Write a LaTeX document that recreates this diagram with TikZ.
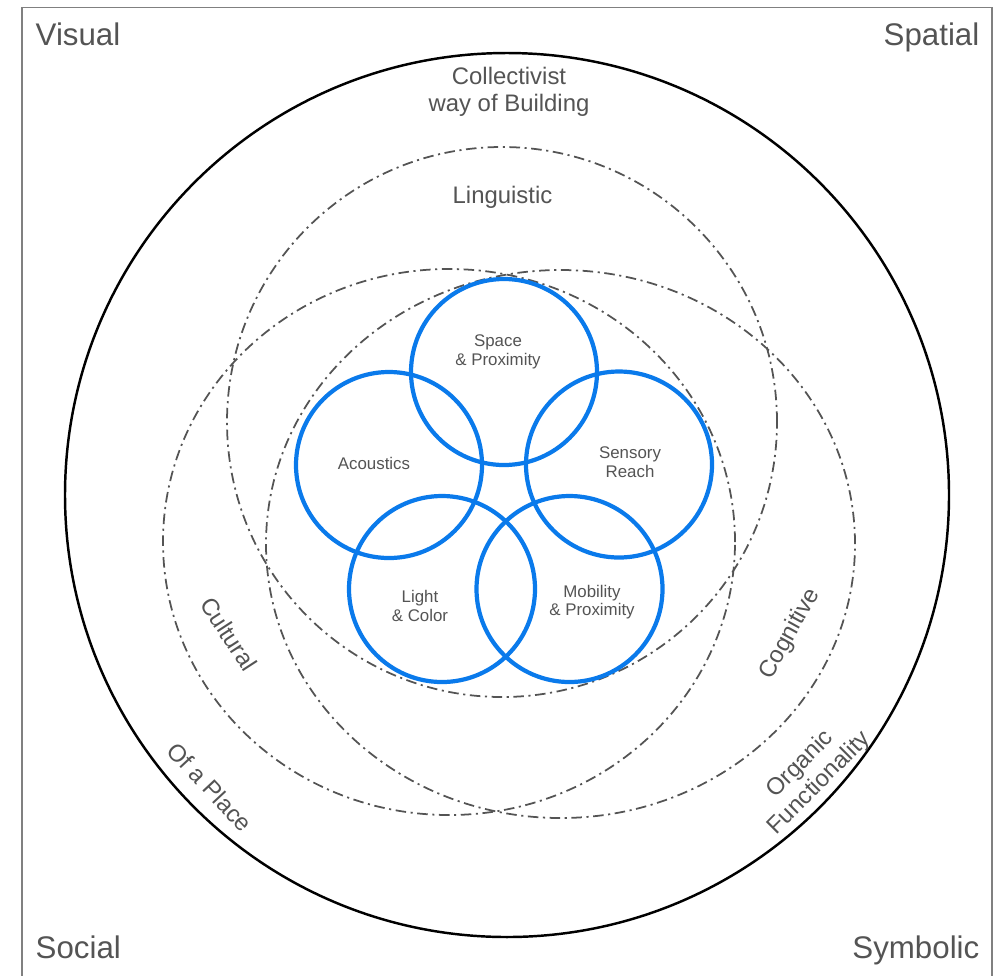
\documentclass[tikz,border=0pt]{standalone}
\usepackage{fontspec}
\setmainfont{Liberation Sans}
\usetikzlibrary{positioning}
\definecolor{mblue}{rgb}{0.04, 0.48, 0.92}
\definecolor{mgray}{rgb}{0.33, 0.33, 0.33}
\definecolor{lgray}{rgb}{0.5, 0.5, 0.5}
\tikzset{dashdot/.style = {mgray, line width=0.5pt,
                           dash pattern=on 3pt off 1.3pt on 0.6pt off 1.3pt},
         ring/.style = {mblue, line width=1.2pt},
         corner/.style = {mgray, inner sep=0pt, font=\fontsize{8.9}{10}\selectfont},
         field/.style = {mgray, inner sep=0pt, align=center, font=\fontsize{6.8}{7.7}\selectfont},
         small/.style = {mgray, inner sep=0pt, align=center, font=\fontsize{4.8}{5.3}\selectfont}}

\begin{document}
\begin{tikzpicture}
      \useasboundingbox (0, 0) rectangle (10.05, -9.75);
      \draw [lgray, line width=0.5pt] (0.22, -9.85) -- (0.22, -0.075) -- (9.92, -0.075) -- (9.92, -9.85);

      \draw [line width=0.7pt] (5.07, -4.95) circle (4.42);

      \draw [dashdot] (5.02, -4.22) circle (2.75);
      \draw [dashdot] (4.49, -5.42) ellipse (2.86 and 2.73);
      \draw [dashdot] (5.605, -5.44) ellipse (2.945 and 2.74);

      \draw [ring] (5.04, -3.72) circle (0.93);
      \draw [ring] (3.89, -4.65) circle (0.93);
      \draw [ring] (6.19, -4.645) circle (0.93);
      \draw [ring] (4.42, -5.89) circle (0.93);
      \draw [ring] (5.695, -5.89) circle (0.93);

      \node [corner, anchor=base west] (visual) at (0.35, -0.45) {Visual};
      \node [corner, anchor=base east] (spatial) at (9.80, -0.45) {Spatial};
      \node [corner, anchor=base west] (social) at (0.35, -9.58) {Social};
      \node [corner, anchor=base east] (symbolic) at (9.80, -9.58) {Symbolic};

      \node [field] (collectivist) at (5.09, -0.915) {Collectivist\\way of Building};
      \node [field, anchor=base] (linguistic) at (5.025, -2.03) {Linguistic};
      \node [field, rotate=-57] (cultural) at (2.29, -6.34) {Cultural};
      \node [field, rotate=-47] (place) at (2.10, -7.87) {Of a Place};
      \node [field, rotate=61] (cognitive) at (7.90, -6.34) {Cognitive};
      \node [field, rotate=45] (organic) at (8.10, -7.74) {Organic\\Functionality};

      \node [small] (space) at (4.98, -3.52) {Space\\\& Proximity};
      \node [small] (acoustics) at (3.74, -4.63) {Acoustics};
      \node [small] (sensory) at (6.30, -4.62) {Sensory\\Reach};
      \node [small] (light) at (4.20, -6.06) {Light\\\& Color};
      \node [small] (mobility) at (5.92, -6.02) {Mobility\\\& Proximity};
    \end{tikzpicture}
\end{document}
